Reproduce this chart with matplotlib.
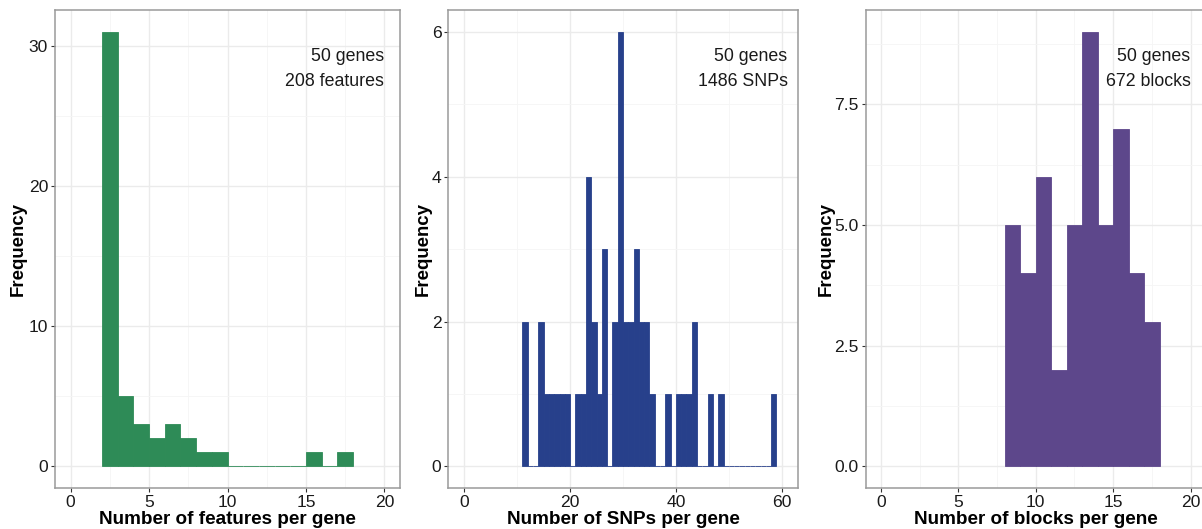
import numpy as np
import matplotlib
matplotlib.use("Agg")
import matplotlib.pyplot as plt
from matplotlib.ticker import MultipleLocator

plt.rcParams['font.family'] = ['Liberation Sans', 'DejaVu Sans']

# histogram data (bin width 1, counts per bin starting at the given left edge)
feat_start = 2
feat_counts = [31, 5, 3, 2, 3, 2, 1, 1, 0, 0, 0, 0, 0, 1, 0, 1]

snp_start = 11
snp_counts = [2, 0, 0, 2, 1, 1, 1, 1, 1, 0,
              1, 1, 4, 2, 1, 3, 0, 2, 6, 2,
              2, 3, 2, 2, 1, 0, 0, 1, 0, 1,
              1, 1, 2, 0, 0, 1, 0, 1, 0, 0,
              0, 0, 0, 0, 0, 0, 0, 1]

block_start = 8
block_counts = [5, 4, 6, 2, 5, 9, 5, 7, 4, 3]

xlabels = ["Number of features per gene", "Number of SNPs per gene", "Number of blocks per gene"]
notes = [("50 genes", "208 features"), ("50 genes", "1486 SNPs"), ("50 genes", "672 blocks")]
colors = ["#2E8B57", "#27408B", "#5D478B"]

W, H = 1202, 529
fig = plt.figure(figsize=(W / 100, H / 100), dpi=100)

# panel boxes in pixels: left, right ; top/bottom shared
boxes = [(55, 400), (448.4, 797.6), (865.5, 1206)]
top, bot = 10.3, 488

panels = [
    dict(start=feat_start, counts=feat_counts, xlim=(-1, 21), xmaj=5, ylim=(-1.55, 32.55), ymaj=10,
         yfmt="%d", note_x=20, ylab_x=-0.107),
    dict(start=snp_start, counts=snp_counts, xlim=(-3, 63), xmaj=20, ylim=(-0.3, 6.3), ymaj=2,
         yfmt="%d", note_x=61.1, ylab_x=-0.073),
    dict(start=block_start, counts=block_counts, xlim=(-1, 21), xmaj=5, ylim=(-0.45, 9.45), ymaj=2.5,
         yfmt="%.1f", note_x=20, ylab_x=-0.116),
]

for i, p in enumerate(panels):
    l, r = boxes[i]
    ax = fig.add_axes([l / W, (H - bot) / H, (r - l) / W, (bot - top) / H])
    counts = np.array(p["counts"])
    edges = p["start"] + np.arange(len(counts))
    ax.bar(edges, counts, width=1, align='edge', color=colors[i],
           edgecolor=colors[i], linewidth=0.6, zorder=3)

    ax.set_xlim(*p["xlim"])
    ax.set_ylim(*p["ylim"])
    ax.xaxis.set_major_locator(MultipleLocator(p["xmaj"]))
    ax.xaxis.set_minor_locator(MultipleLocator(p["xmaj"] / 2))
    ax.yaxis.set_major_locator(MultipleLocator(p["ymaj"]))
    ax.yaxis.set_minor_locator(MultipleLocator(p["ymaj"] / 2))
    ax.yaxis.set_major_formatter(matplotlib.ticker.FormatStrFormatter(p["yfmt"]))

    ax.grid(which='major', color='#EBEBEB', linewidth=1.0, zorder=0)
    ax.grid(which='minor', color='#F5F5F5', linewidth=0.6, zorder=0)
    ax.set_axisbelow(True)

    for s in ax.spines.values():
        s.set_color('#9A9A9A')
        s.set_linewidth(1.1)

    ax.tick_params(which='major', length=3, width=0.8, color='#333333',
                   labelsize=12.6, labelcolor='#1A1A1A', pad=2)
    ax.tick_params(which='minor', length=0)

    ax.set_xlabel(xlabels[i], fontsize=13.6, fontweight='bold')
    ax.xaxis.set_label_coords(0.5, -0.065)
    ax.xaxis.label.set_va('center')
    ax.set_ylabel("Frequency", fontsize=13.4, fontweight='bold')
    ax.yaxis.set_label_coords(p["ylab_x"], 0.5)
    ax.yaxis.label.set_va('center')

    ax.text(p["note_x"], 0.904, notes[i][0], transform=ax.get_xaxis_transform(),
            ha='right', va='center', fontsize=12.8, color='#1A1A1A')
    ax.text(p["note_x"], 0.850, notes[i][1], transform=ax.get_xaxis_transform(),
            ha='right', va='center', fontsize=12.8, color='#1A1A1A')

fig.savefig("out.png", dpi=100)
